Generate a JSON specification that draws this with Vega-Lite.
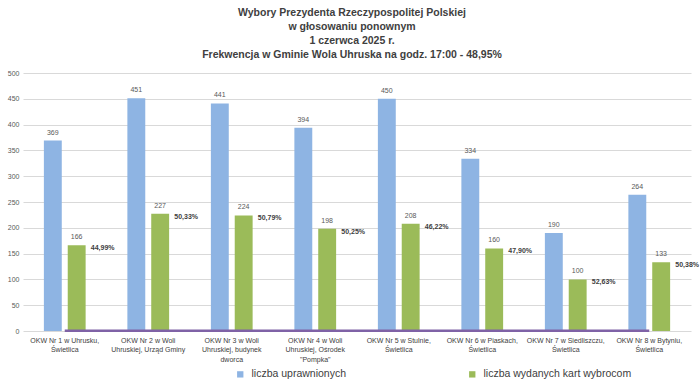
{
  "$schema": "https://vega.github.io/schema/vega-lite/v6.json",
  "width": 668,
  "height": 258,
  "autosize": {"type": "none"},
  "padding": {"left": 23, "top": 73, "right": 9, "bottom": 59},
  "background": "white",
  "config": {
    "locale": {"number": {"decimal": ",", "thousands": " ", "grouping": [3], "currency": ["", " zł"]}},
    "view": {"stroke": null},
    "font": "Liberation Sans",
    "axisY": {
      "title": null,
      "tickCount": 10,
      "labelOverlap": false,
      "labelFontSize": 7,
      "labelColor": "#595959",
      "gridColor": "#d9d9d9",
      "gridWidth": 1,
      "domain": false,
      "ticks": false,
      "labelPadding": 4
    }
  },
  "title": {
    "text": ["Wybory Prezydenta Rzeczypospolitej Polskiej", "w głosowaniu ponownym", "1 czerwca 2025 r.", "Frekwencja w Gminie Wola Uhruska na godz. 17:00 - 48,95%"],
    "fontSize": 10.5,
    "fontWeight": "bold",
    "color": "#404040",
    "lineHeight": 14,
    "anchor": "middle",
    "dx": -5,
    "offset": 9
  },
  "data": {
    "values": [
      {"okw": "OKW Nr 1 w Uhrusku,|Świetlica", "liczba uprawnionych": 369, "liczba wydanych kart wybrocom": 166, "frekwencja": 0.4499},
      {"okw": "OKW Nr 2 w Woli|Uhruskiej, Urząd Gminy", "liczba uprawnionych": 451, "liczba wydanych kart wybrocom": 227, "frekwencja": 0.5033},
      {"okw": "OKW Nr 3 w Woli|Uhruskiej, budynek|dworca", "liczba uprawnionych": 441, "liczba wydanych kart wybrocom": 224, "frekwencja": 0.5079},
      {"okw": "OKW Nr 4 w Woli|Uhruskiej, Ośrodek|\"Pompka\"", "liczba uprawnionych": 394, "liczba wydanych kart wybrocom": 198, "frekwencja": 0.5025},
      {"okw": "OKW Nr 5 w Stulnie,|Świetlica", "liczba uprawnionych": 450, "liczba wydanych kart wybrocom": 208, "frekwencja": 0.4622},
      {"okw": "OKW Nr 6 w Piaskach,|Świetlica", "liczba uprawnionych": 334, "liczba wydanych kart wybrocom": 160, "frekwencja": 0.4790},
      {"okw": "OKW Nr 7 w Siedliszczu,|Świetlica", "liczba uprawnionych": 190, "liczba wydanych kart wybrocom": 100, "frekwencja": 0.5263},
      {"okw": "OKW Nr 8 w Bytyniu,|Świetlica", "liczba uprawnionych": 264, "liczba wydanych kart wybrocom": 133, "frekwencja": 0.5038}
    ]
  },
  "encoding": {
    "x": {
      "field": "okw",
      "type": "nominal",
      "sort": null,
      "scale": {"paddingInner": 0.5, "paddingOuter": 0.25},
      "axis": {
        "title": null,
        "labelAngle": 0,
        "labelExpr": "split(datum.value, '|')",
        "labelFontSize": 7,
        "labelColor": "#404040",
        "labelLineHeight": 9.5,
        "labelPadding": 5,
        "labelBaseline": "top",
        "domain": false,
        "ticks": false,
        "labelLimit": 120
      }
    }
  },
  "layer": [
    {
      "transform": [{"fold": ["liczba uprawnionych", "liczba wydanych kart wybrocom"], "as": ["seria", "wartosc"]}],
      "mark": {"type": "bar"},
      "encoding": {
        "xOffset": {"field": "seria", "type": "nominal", "scale": {"domain": ["liczba uprawnionych", "liczba wydanych kart wybrocom"], "paddingInner": 0.25}},
        "y": {
          "field": "wartosc",
          "type": "quantitative",
          "scale": {"domain": [0, 500], "nice": false}
        },
        "color": {
          "field": "seria",
          "type": "nominal",
          "scale": {"domain": ["liczba uprawnionych", "liczba wydanych kart wybrocom"], "range": ["#8eb4e3", "#9bbb59"]},
          "legend": {
            "title": null,
            "orient": "none",
            "legendX": 212,
            "legendY": 296,
            "direction": "horizontal",
            "symbolType": "square",
            "symbolSize": 40,
            "symbolStrokeWidth": 0,
            "labelFontSize": 10.5,
            "labelColor": "#404040",
            "labelOffset": 6,
            "columnPadding": 120,
            "labelLimit": 300
          }
        }
      }
    },
    {
      "transform": [{"fold": ["liczba uprawnionych", "liczba wydanych kart wybrocom"], "as": ["seria", "wartosc"]}],
      "mark": {"type": "text", "baseline": "bottom", "dy": -5, "fontSize": 7, "color": "#595959"},
      "encoding": {
        "xOffset": {"field": "seria", "type": "nominal"},
        "y": {"field": "wartosc", "type": "quantitative"},
        "text": {"field": "wartosc", "type": "quantitative"}
      }
    },
    {
      "mark": {"type": "line", "color": "#7f62a6", "strokeWidth": 2.5},
      "encoding": {
        "y": {"field": "frekwencja", "type": "quantitative"}
      }
    },
    {
      "mark": {"type": "text", "baseline": "middle", "dx": 26, "dy": 3, "fontSize": 7, "fontWeight": "bold", "color": "#404040"},
      "encoding": {
        "xOffset": {"datum": "liczba wydanych kart wybrocom"},
        "y": {"field": "liczba wydanych kart wybrocom", "type": "quantitative"},
        "text": {"field": "frekwencja", "type": "quantitative", "format": ".2%"}
      }
    }
  ]
}
